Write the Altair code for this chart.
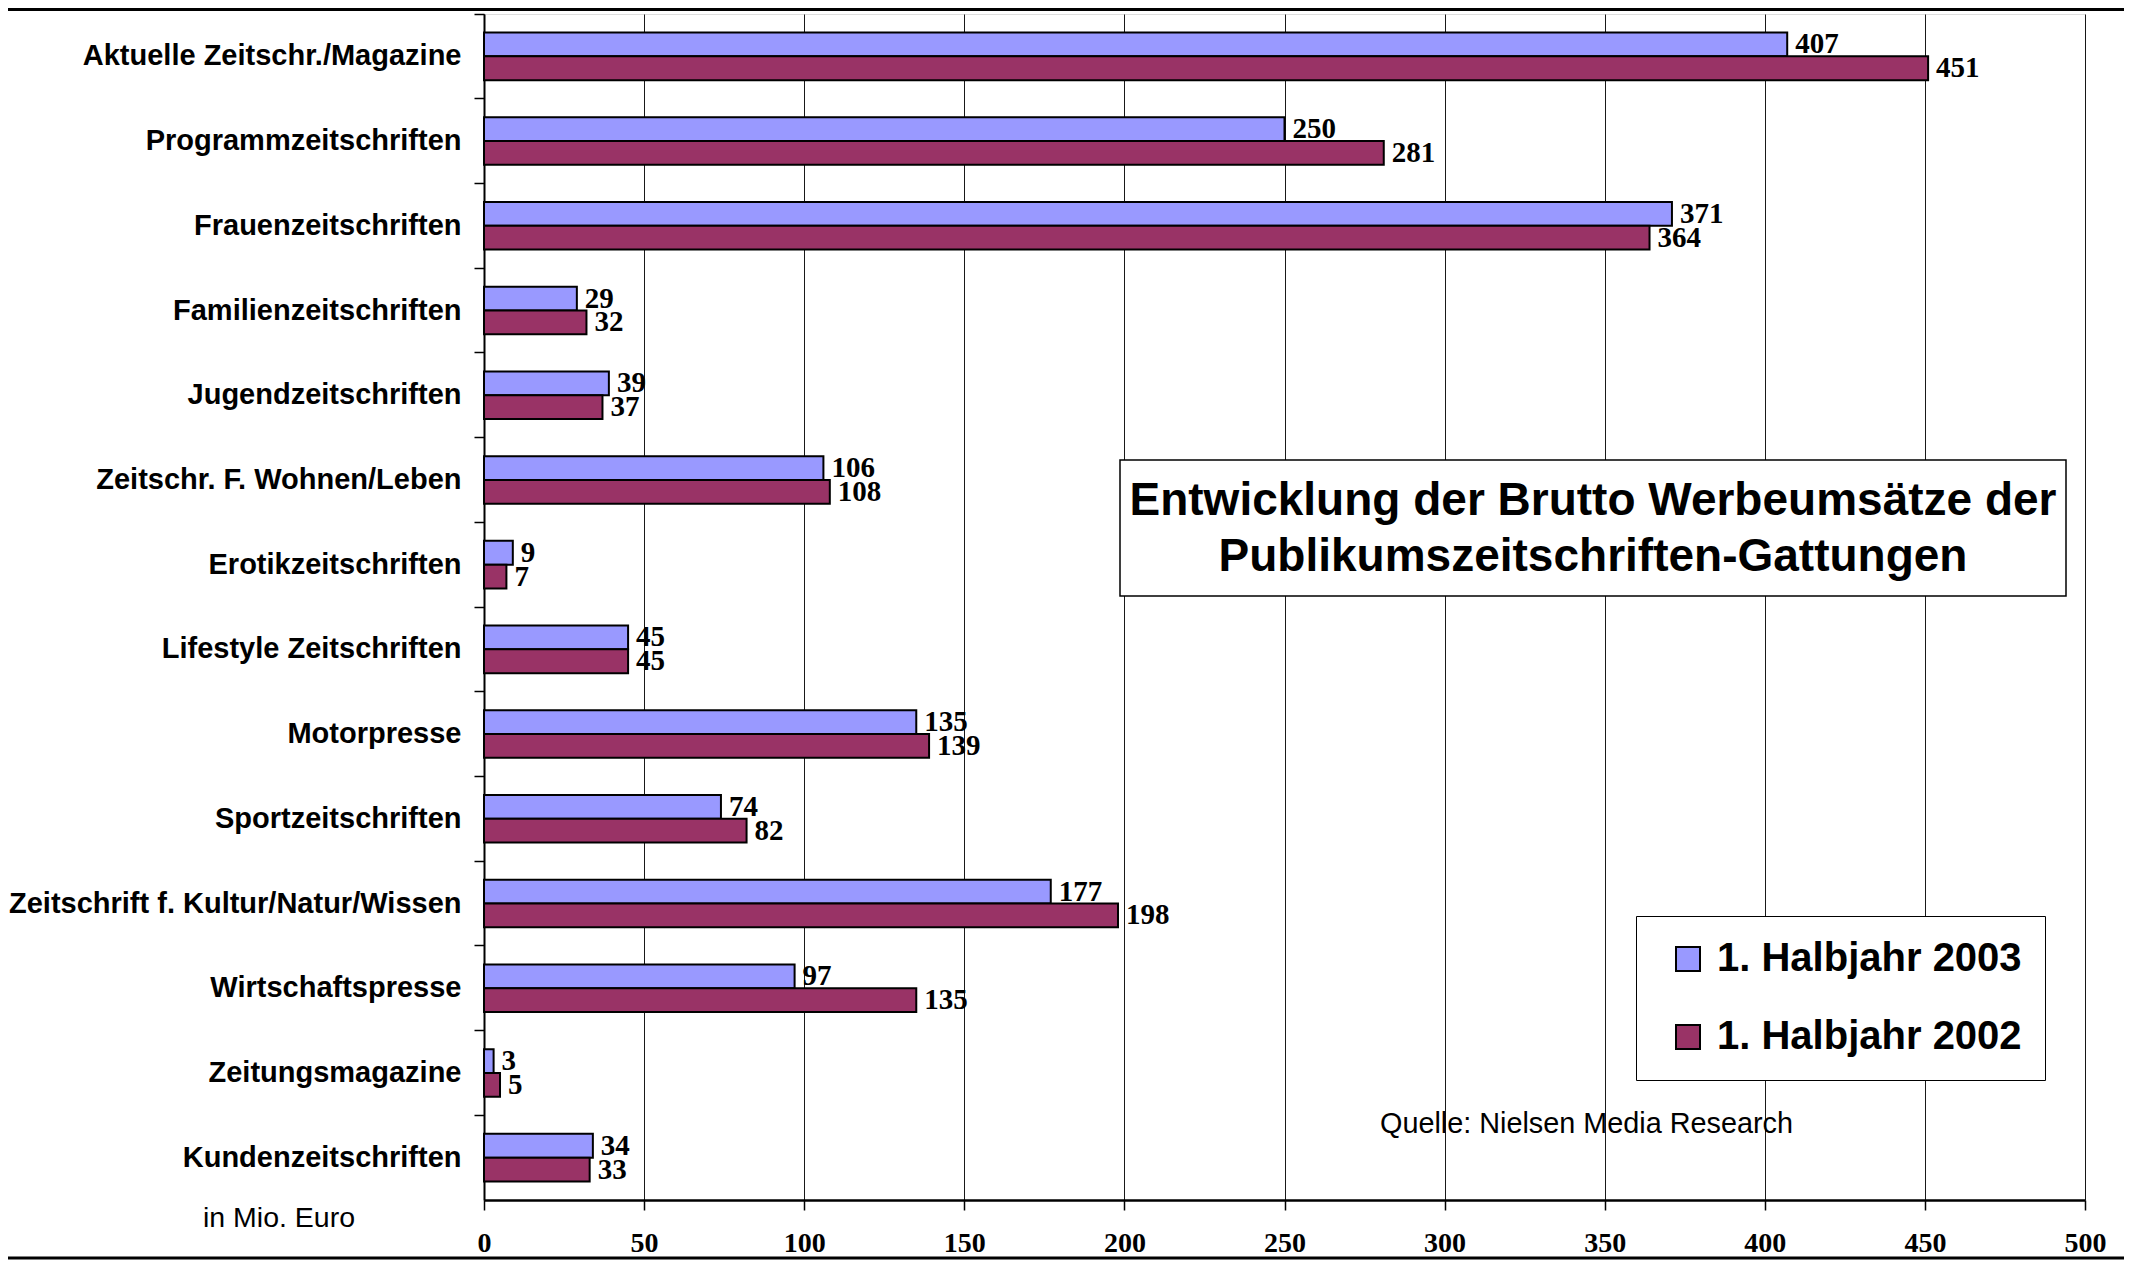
import altair as alt
import pandas as pd

categories = [
    "Aktuelle Zeitschr./Magazine",
    "Programmzeitschriften",
    "Frauenzeitschriften",
    "Familienzeitschriften",
    "Jugendzeitschriften",
    "Zeitschr. F. Wohnen/Leben",
    "Erotikzeitschriften",
    "Lifestyle Zeitschriften",
    "Motorpresse",
    "Sportzeitschriften",
    "Zeitschrift f. Kultur/Natur/Wissen",
    "Wirtschaftspresse",
    "Zeitungsmagazine",
    "Kundenzeitschriften",
]
series = ["1. Halbjahr 2003", "1. Halbjahr 2002"]
values_2003 = [407, 250, 371, 29, 39, 106, 9, 45, 135, 74, 177, 97, 3, 34]
values_2002 = [451, 281, 364, 32, 37, 108, 7, 45, 139, 82, 198, 135, 5, 33]
colors = ["#9999FF", "#993366"]
x_ticks = [0, 50, 100, 150, 200, 250, 300, 350, 400, 450, 500]

title_text = "Entwicklung der Brutto Werbeumsätze der\nPublikumszeitschriften-Gattungen"
source_text = "Quelle: Nielsen Media Research"
unit_text = "in Mio. Euro"

rows = []
for s, vals in zip(series, [values_2003, values_2002]):
    for c, v in zip(categories, vals):
        rows.append({"Gattung": c, "Zeitraum": s, "Wert": v})
df = pd.DataFrame(rows)

W, H = 1601, 1186
PAD_L, PAD_T, PAD_R, PAD_B = 476, 6, 39, 60

y_enc = alt.Y(
    "Gattung:N",
    sort=categories,
    scale=alt.Scale(paddingInner=0, paddingOuter=0),
    axis=alt.Axis(
        title=None,
        bandPosition=0,
        labelFont="Liberation Sans",
        labelFontWeight="bold",
        labelFontSize=29,
        labelColor="black",
        labelPadding=13,
        tickSize=10,
        tickColor="black",
        tickWidth=1.5,
        domainColor="black",
        domainWidth=2,
        grid=False,
        labelLimit=600,
    ),
)
yoff = alt.YOffset(
    "Zeitraum:N",
    scale=alt.Scale(domain=series, paddingInner=0, paddingOuter=0.78),
)
x_enc = alt.X(
    "Wert:Q",
    scale=alt.Scale(domain=[0, 500], nice=False),
    axis=alt.Axis(
        title=None,
        values=x_ticks,
        format="d",
        labelFlush=False,
        labelFont="Liberation Serif",
        labelFontWeight="bold",
        labelFontSize=28,
        labelColor="black",
        labelPadding=19,
        tickSize=10,
        tickColor="black",
        tickWidth=1.5,
        domainColor="black",
        domainWidth=2.5,
        grid=True,
        gridColor="black",
        gridWidth=1,
        gridOpacity=0.9,
    ),
)
color = alt.Color(
    "Zeitraum:N",
    scale=alt.Scale(domain=series, range=colors),
    legend=alt.Legend(
        title=None,
        orient="none",
        legendX=1152,
        legendY=902,
        direction="vertical",
        fillColor="white",
        strokeColor="black",
        padding=23,
        labelFont="Liberation Sans",
        labelFontWeight="bold",
        labelFontSize=40,
        labelColor="black",
        labelOffset=9,
        labelLimit=600,
        symbolType="square",
        symbolSize=576,
        symbolOffset=9,
        symbolStrokeColor="black",
        symbolStrokeWidth=2,
        symbolOpacity=1,
        rowPadding=38,
    ),
)

base = alt.Chart(df)
bars = base.mark_bar(stroke="black", strokeWidth=2, opacity=1).encode(
    x=x_enc, y=y_enc, yOffset=yoff, color=color
)
labels = base.mark_text(
    align="left",
    baseline="middle",
    dx=8,
    font="Liberation Serif",
    fontWeight="bold",
    fontSize=29,
    color="black",
).encode(
    x=alt.X("Wert:Q"),
    y=alt.Y("Gattung:N", sort=categories),
    yOffset=alt.YOffset("Zeitraum:N", scale=alt.Scale(domain=series)),
    text=alt.Text("Wert:Q"),
)

one = pd.DataFrame({"t": [title_text], "s": [source_text], "u": [unit_text]})
ann = alt.Chart(one)
box = ann.mark_rect(fill="white", stroke="black", strokeWidth=1.5).encode(
    x=alt.value(636), x2=alt.value(1582), y=alt.value(446), y2=alt.value(582)
)
title = ann.mark_text(
    align="center",
    baseline="middle",
    font="Liberation Sans",
    fontWeight="bold",
    fontSize=46,
    color="black",
    lineBreak="\n",
    lineHeight=56,
).encode(x=alt.value(1109), y=alt.value(487), text="t:N")
source = ann.mark_text(
    align="left",
    baseline="middle",
    font="Liberation Sans",
    fontSize=28.8,
    color="black",
).encode(x=alt.value(896), y=alt.value(1110), text="s:N")
unit = ann.mark_text(
    align="center",
    baseline="middle",
    font="Liberation Sans",
    fontSize=28.5,
    color="black",
).encode(x=alt.value(-205), y=alt.value(1204), text="u:N")
top_line = ann.mark_rule(color="black", strokeWidth=4).encode(
    x=alt.value(-PAD_L), x2=alt.value(W + PAD_R), y=alt.value(-5)
)
bottom_line = ann.mark_rule(color="black", strokeWidth=3).encode(
    x=alt.value(-PAD_L), x2=alt.value(W + PAD_R), y=alt.value(1244)
)

chart = (
    alt.layer(bars, labels, box, title, source, unit, top_line, bottom_line)
    .properties(
        width=W,
        height=H,
        padding={"left": PAD_L, "top": PAD_T, "right": PAD_R, "bottom": PAD_B},
        autosize=alt.AutoSizeParams(type="none"),
    )
    .configure_view(stroke="#808080", strokeWidth=2)
    .configure(background="white")
)

chart.save("out.html", embed_options={"renderer": "svg", "actions": False})
